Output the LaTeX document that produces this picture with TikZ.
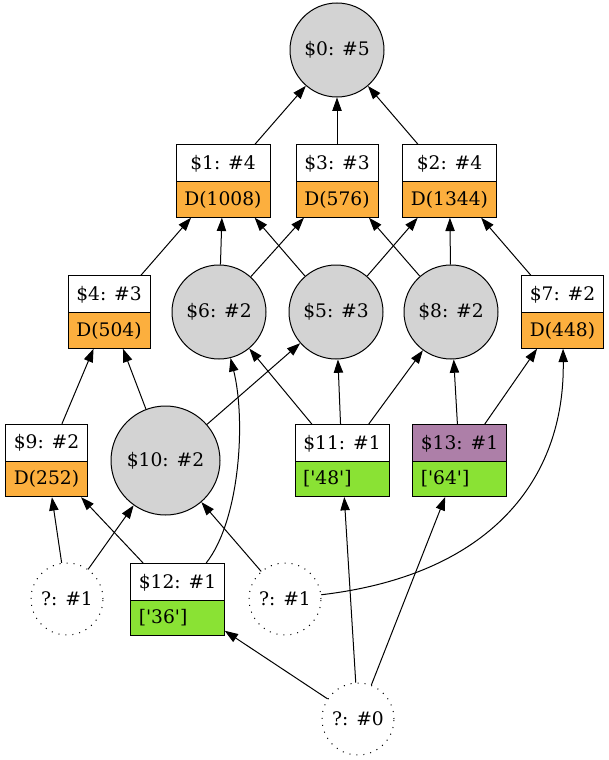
\documentclass[tikz,border=0pt]{standalone}
\usepackage{fontspec}
\setmainfont{DejaVu Serif}
\usetikzlibrary{arrows.meta,shapes.multipart}
\definecolor{dorange}{HTML}{FCAF3E}
\definecolor{lgreen}{HTML}{8AE234}
\definecolor{lplum}{HTML}{AD7FA8}
\definecolor{lgray}{HTML}{D3D3D3}
\newcommand{\q}{\textquotesingle}
\begin{document}
\begin{tikzpicture}[x=0.75pt,y=-0.75pt,line width=0.75pt,>={Triangle[length=10pt,width=7pt]},
  every node/.style={font=\fontsize{14}{16.8}\selectfont,inner sep=0pt},
  val/.style={circle,draw,fill=lgray,minimum size=70.5pt},
  ext/.style={circle,draw,dash pattern=on 0.75pt off 4.5pt,minimum size=54pt},
  rec/.style={rectangle split,rectangle split parts=2,draw,rectangle split part fill={white,dorange},
    text height=11.5pt,text depth=2.5pt,inner xsep=6pt,inner ysep=6.5pt},
  lit/.style={rec,rectangle split part fill={white,lgreen},rectangle split part align={center,left}}]
\useasboundingbox (0,0) rectangle (608,760);
\node[val] (c0) at (337,50) {\$0: \#5};
\node[rec,minimum width=70.5pt] (r1) at (223,181) {\$1: \#4\nodepart{two}D(1008)};
\node[rec,minimum width=61.5pt] (r3) at (337,181) {\$3: \#3\nodepart{two}D(576)};
\node[rec,minimum width=69.75pt] (r2) at (449.5,181) {\$2: \#4\nodepart{two}D(1344)};
\node[rec,minimum width=61.5pt] (r4) at (109,312) {\$4: \#3\nodepart{two}D(504)};
\node[val] (c6) at (219,312) {\$6: \#2};
\node[val] (c5) at (336,312) {\$5: \#3};
\node[val] (c8) at (451,312) {\$8: \#2};
\node[rec,minimum width=60.75pt] (r7) at (562.5,312) {\$7: \#2\nodepart{two}D(448)};
\node[rec,minimum width=60.75pt] (r9) at (46.5,460.5) {\$9: \#2\nodepart{two}D(252)};
\node[val,minimum size=81.75pt] (c10) at (165.5,460.5) {\$10: \#2};
\node[lit,minimum width=70.5pt] (r11) at (342,460.5) {\$11: \#1\nodepart{two}[\q48\q]};
\node[lit,minimum width=69.75pt,rectangle split part fill={lplum,lgreen}] (r13) at (459.5,460.5) {\$13: \#1\nodepart{two}[\q64\q]};
\node[ext] (q1) at (67,599) {?: \#1};
\node[lit,minimum width=69.75pt] (r12) at (177.5,599.5) {\$12: \#1\nodepart{two}[\q36\q]};
\node[ext] (q2) at (285,599) {?: \#1};
\node[ext] (q0) at (358,719) {?: \#0};
\draw[->] (r1) -- (c0);
\draw[->] (r3) -- (c0);
\draw[->] (r2) -- (c0);
\draw[->] (r4) -- (r1);
\draw[->] (c6) -- (r1);
\draw[->] (c5) -- (r1);
\draw[->] (c6) -- (r3);
\draw[->] (c8) -- (r3);
\draw[->] (c5) -- (r2);
\draw[->] (c8) -- (r2);
\draw[->] (r7) -- (r2);
\draw[->] (r9) -- (r4);
\draw[->] (c10) -- (r4);
\draw[->] (c10) -- (c5);
\draw[->] (r11) -- (c6);
\draw[->] (r11) -- (c5);
\draw[->] (r11) -- (c8);
\draw[->] (r13) -- (c8);
\draw[->] (r13) -- (r7);
\draw[->] (q1) -- (r9);
\draw[->] (q1) -- (c10);
\draw[->] (r12) -- (r9);
\draw[->] (r12) .. controls (240,520) and (246,420) .. (c6);
\draw[->] (q2) -- (c10);
\draw[->] (q2) .. controls (490,575) and (565,480) .. (r7);
\draw[->] (q0) -- (r12);
\draw[->] (q0) -- (r11);
\draw[->] (q0) -- (r13);
\end{tikzpicture}
\end{document}
